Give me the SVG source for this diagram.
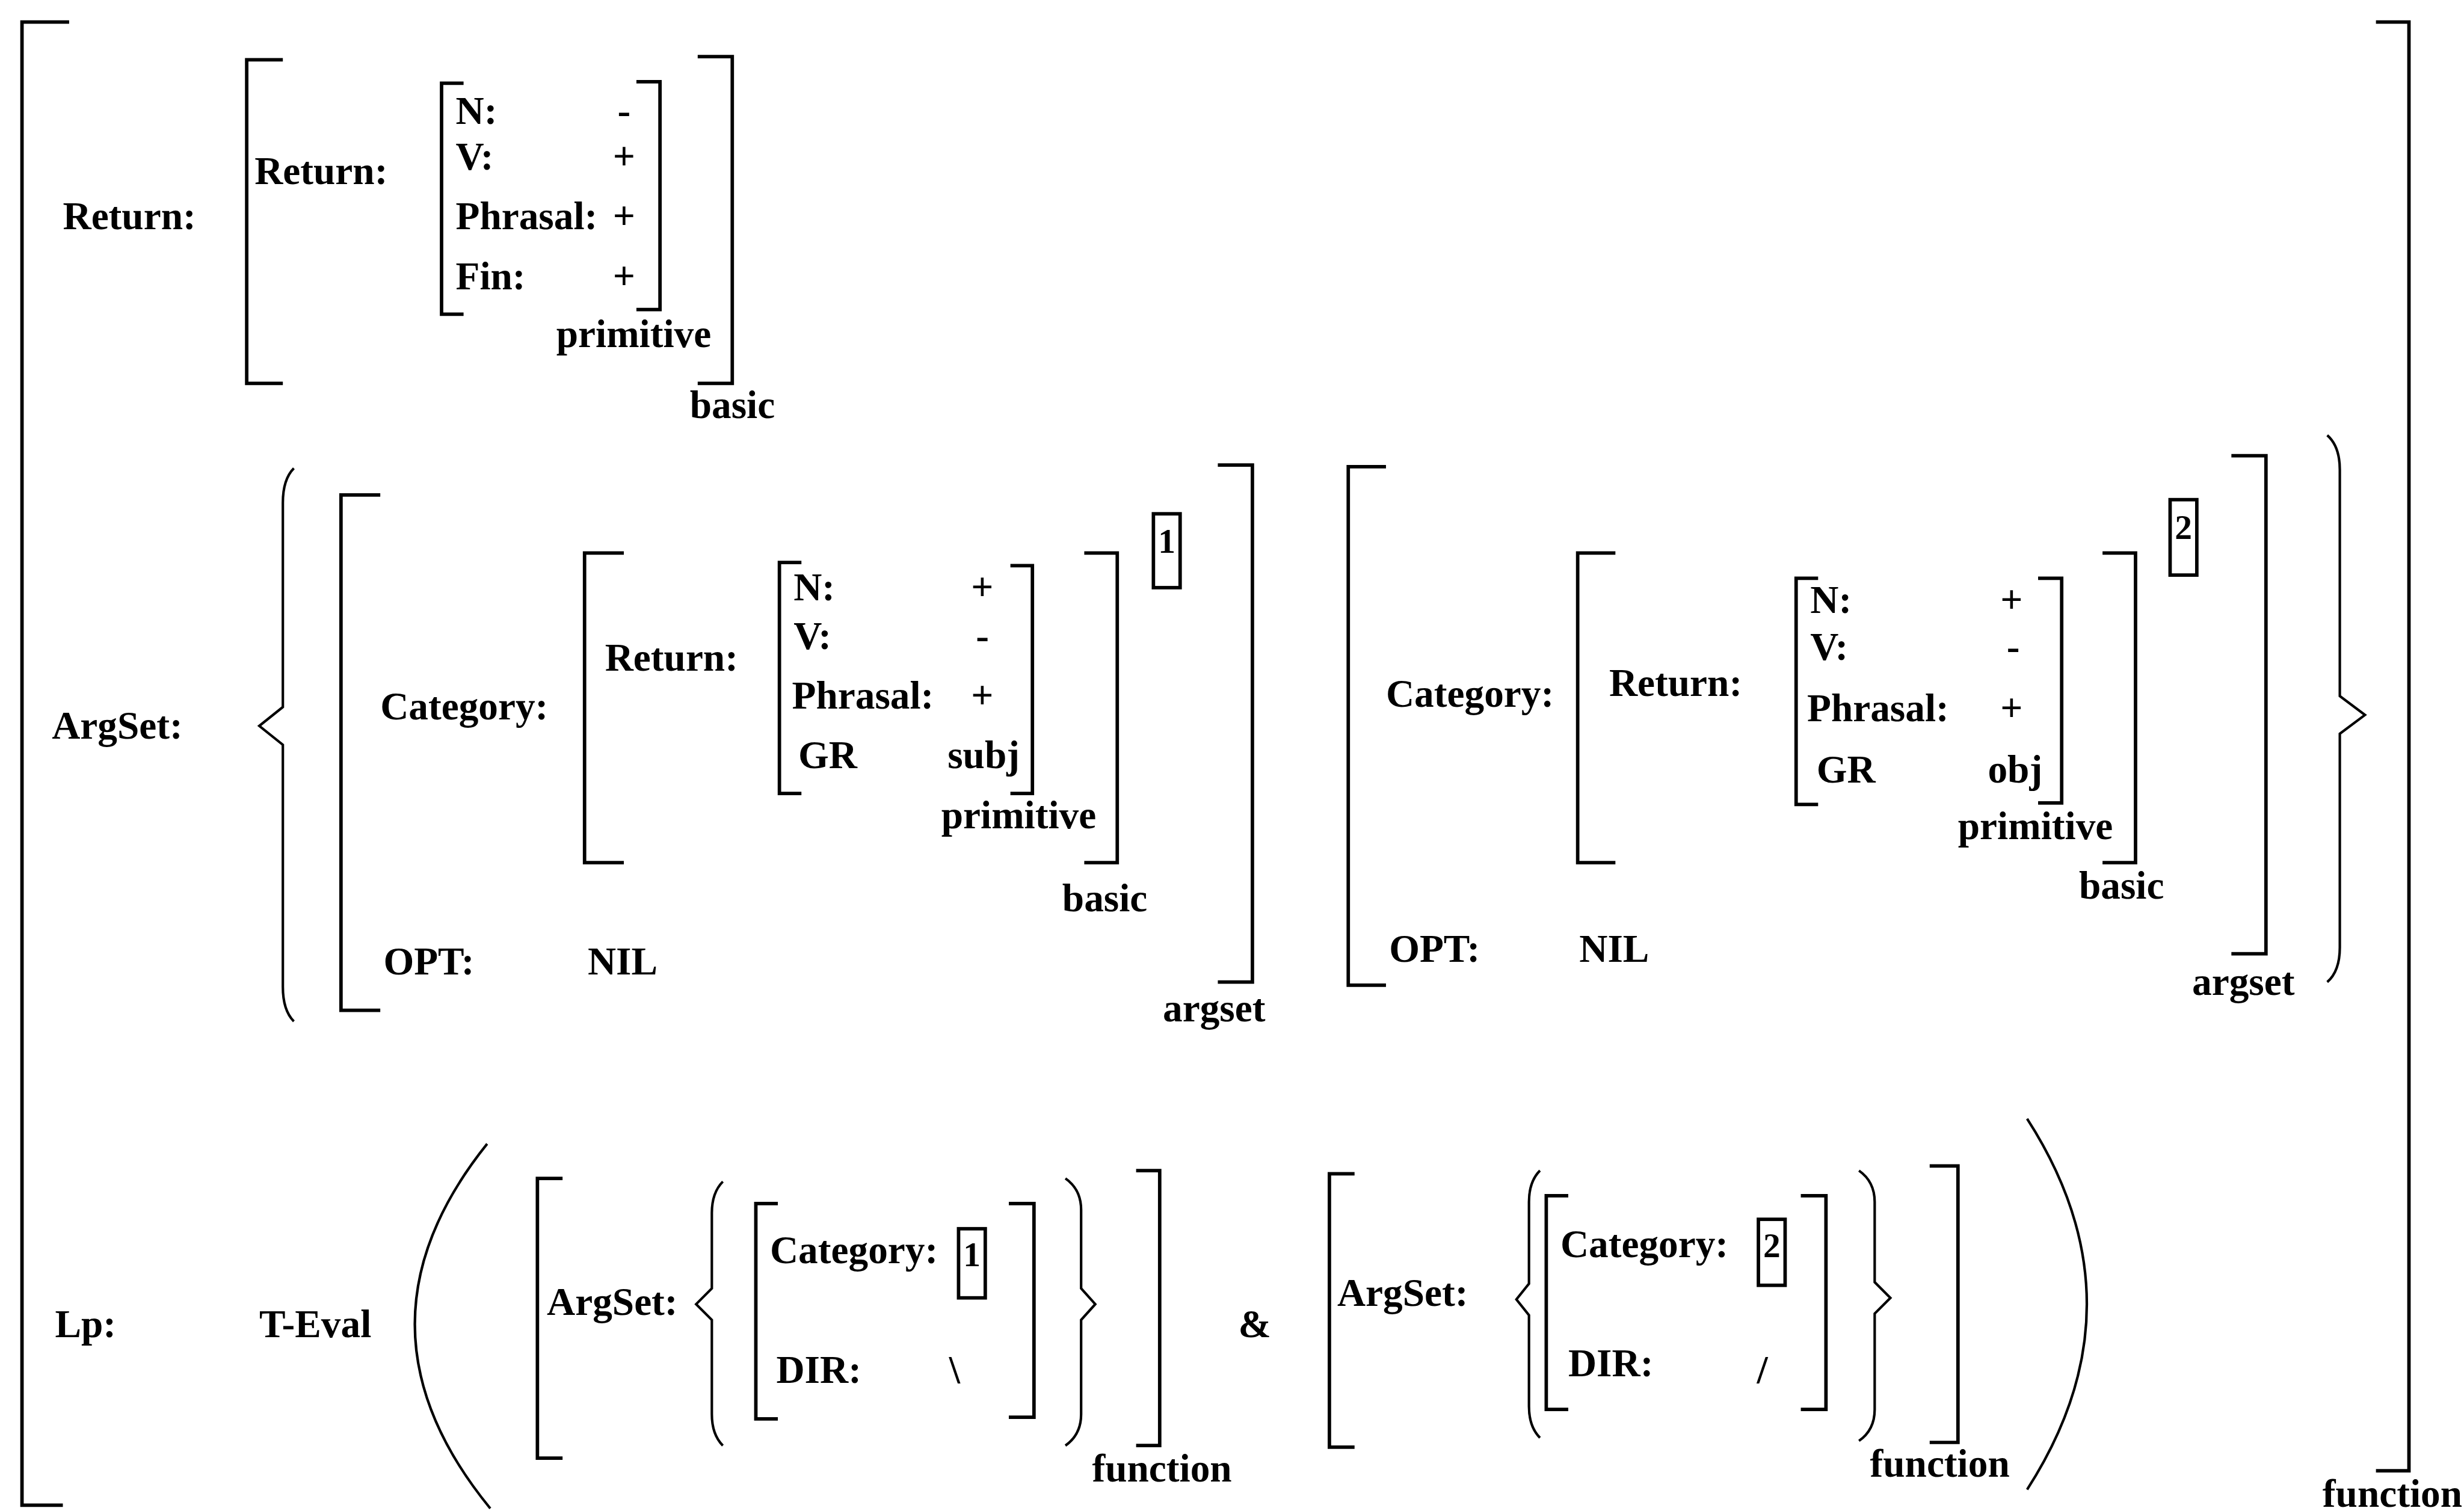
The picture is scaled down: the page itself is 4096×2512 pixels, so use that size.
<svg xmlns="http://www.w3.org/2000/svg" width="4096" height="2512" viewBox="0 0 4096 2512">
<style>
.t{font-family:"Liberation Serif","Times New Roman",serif;font-weight:bold;font-size:25px;fill:#000}
.n{font-family:"Liberation Serif","Times New Roman",serif;font-weight:bold;font-size:22px;fill:#000;text-anchor:middle}
.b{fill:none;stroke:#000;stroke-width:2.2;stroke-linejoin:miter}
.p{fill:none;stroke:#000;stroke-width:1.6}
</style>
<rect width="4096" height="2512" fill="#fff"/>
<g transform="scale(2.6122)">
<g id="outer">
<path class="b" d="M44,14 H14 V958 H40"/>
<path class="b" d="M1512,14 H1533 V936 H1512"/>
<text class="t" x="1478" y="959">function</text>
</g>
<g id="row-return">
<text class="t" x="40" y="146">Return:</text>
<path class="b" d="M180,38 H157 V244 H180"/>
<path class="b" d="M444,36 H466 V244 H444"/>
<text class="t" x="439" y="266">basic</text>
<text class="t" x="162" y="117">Return:</text>
<path class="b" d="M295,53 H281 V200 H295"/>
<path class="b" d="M405,52 H420 V197 H405"/>
<text class="t" x="354" y="221">primitive</text>
<text class="t" x="290" y="79">N:</text><text class="t" x="393" y="79">-</text>
<text class="t" x="290" y="108">V:</text><text class="t" x="390" y="108">+</text>
<text class="t" x="290" y="146">Phrasal:</text><text class="t" x="390" y="146">+</text>
<text class="t" x="290" y="184">Fin:</text><text class="t" x="390" y="184">+</text>
</g>
<g id="row-argset">
<text class="t" x="33" y="470">ArgSet:</text>
<path class="p" d="M187,298 Q180,305 180,320 V450 L165,462 L180,474 V628 Q180,643 187,650"/>
<path class="p" d="M1481,277 Q1489,284 1489,299 V443 L1505,455 L1489,467 V603 Q1489,618 1481,625"/>
<g id="argset1">
<path class="b" d="M242,315 H217 V643 H242"/>
<path class="b" d="M775,296 H797 V625 H775"/>
<text class="t" x="740" y="650">argset</text>
<text class="t" x="242" y="458">Category:</text>
<path class="b" d="M397,352 H372 V549 H397"/>
<path class="b" d="M690,352 H711 V549 H690"/>
<text class="t" x="676" y="580">basic</text>
<text class="t" x="385" y="427">Return:</text>
<path class="b" d="M510,358 H496 V505 H510"/>
<path class="b" d="M643,360 H657 V505 H643"/>
<text class="t" x="599" y="527">primitive</text>
<text class="t" x="505" y="382">N:</text><text class="t" x="618" y="382">+</text>
<text class="t" x="505" y="413">V:</text><text class="t" x="621" y="413">-</text>
<text class="t" x="504" y="451">Phrasal:</text><text class="t" x="618" y="451">+</text>
<text class="t" x="508" y="489">GR</text><text class="t" x="603" y="489">subj</text>
<rect class="b" x="734" y="327" width="17" height="47"/>
<text class="n" x="742.5" y="352">1</text>
<text class="t" x="244" y="620">OPT:</text><text class="t" x="374" y="620">NIL</text>
</g>
<g id="argset2">
<path class="b" d="M882,297 H858 V627 H882"/>
<path class="b" d="M1420,290 H1442 V607 H1420"/>
<text class="t" x="1395" y="633">argset</text>
<text class="t" x="882" y="450">Category:</text>
<path class="b" d="M1028,352 H1004 V549 H1028"/>
<path class="b" d="M1338,352 H1359 V549 H1338"/>
<text class="t" x="1323" y="572">basic</text>
<text class="t" x="1024" y="443">Return:</text>
<path class="b" d="M1157,368 H1143 V512 H1157"/>
<path class="b" d="M1297,368 H1312 V511 H1297"/>
<text class="t" x="1246" y="534">primitive</text>
<text class="t" x="1152" y="390">N:</text><text class="t" x="1273" y="390">+</text>
<text class="t" x="1152" y="420">V:</text><text class="t" x="1277" y="420">-</text>
<text class="t" x="1150" y="459">Phrasal:</text><text class="t" x="1273" y="459">+</text>
<text class="t" x="1156" y="498">GR</text><text class="t" x="1265" y="498">obj</text>
<rect class="b" x="1381" y="318" width="17" height="48"/>
<text class="n" x="1389.5" y="343">2</text>
<text class="t" x="884" y="612">OPT:</text><text class="t" x="1005" y="612">NIL</text>
</g>
</g>
<g id="row-lp">
<text class="t" x="35" y="851">Lp:</text>
<text class="t" x="165" y="851">T-Eval</text>
<path class="p" d="M310,728 Q217,844 312,960"/>
<path class="p" d="M1290,712 Q1366,830 1290,948"/>
<text class="t" x="788" y="851">&amp;</text>
<g id="func1">
<path class="b" d="M358,750 H342 V928 H358"/>
<path class="b" d="M723,745 H738 V920 H723"/>
<text class="t" x="695" y="943">function</text>
<text class="t" x="348" y="837">ArgSet:</text>
<path class="p" d="M460,752 Q453,759 453,772 V820 L443,830 L453,840 V900 Q453,913 460,920"/>
<path class="p" d="M678,750 Q688,757 688,770 V820 L697,830 L688,840 V900 Q688,913 678,920"/>
<path class="b" d="M495,766 H481 V903 H495"/>
<path class="b" d="M642,766 H658 V902 H642"/>
<text class="t" x="490" y="804">Category:</text>
<rect class="b" x="610" y="782" width="17" height="44"/>
<text class="n" x="618.5" y="806">1</text>
<text class="t" x="494" y="880">DIR:</text>
<text class="t" x="604" y="880">\</text>
</g>
<g id="func2">
<path class="b" d="M862,747 H846 V921 H862"/>
<path class="b" d="M1228,742 H1246 V918 H1228"/>
<text class="t" x="1190" y="940">function</text>
<text class="t" x="851" y="831">ArgSet:</text>
<path class="p" d="M980,745 Q973,752 973,765 V817 L965,827 L973,837 V895 Q973,908 980,915"/>
<path class="p" d="M1183,745 Q1193,752 1193,765 V816 L1203,826 L1193,836 V897 Q1193,910 1183,917"/>
<path class="b" d="M998,761 H984 V897 H998"/>
<path class="b" d="M1146,761 H1162 V897 H1146"/>
<text class="t" x="993" y="800">Category:</text>
<rect class="b" x="1119" y="776" width="17" height="42"/>
<text class="n" x="1127.5" y="800">2</text>
<text class="t" x="998" y="876">DIR:</text>
<text class="t" x="1118" y="880">/</text>
</g>
</g>
</g>
</svg>
